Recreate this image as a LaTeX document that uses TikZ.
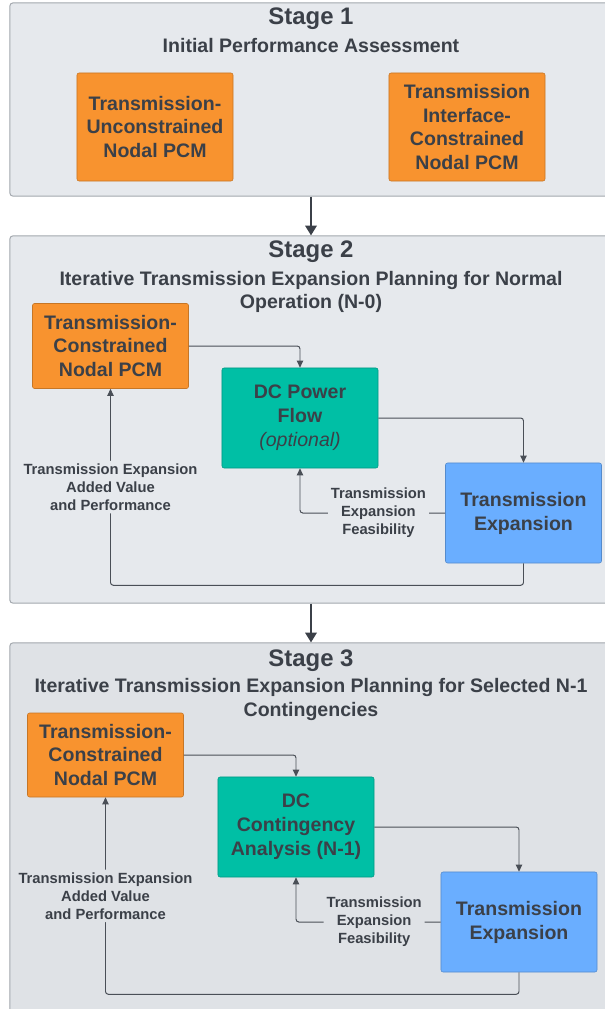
\documentclass[tikz,border=0pt]{standalone}
\usepackage{fontspec}
\setmainfont{Liberation Sans}
\usetikzlibrary{arrows.meta,positioning}
%colours
\definecolor{inkgray}{HTML}{3B4048}
\definecolor{linegray}{HTML}{4A4F57}
\definecolor{stagebg}{HTML}{E6E9ED}
\definecolor{stagebgdark}{HTML}{DFE2E6}
\definecolor{stageline}{HTML}{A3A8AE}
\definecolor{pcmorange}{HTML}{F8932F}
\definecolor{dcgreen}{HTML}{00BFA5}
\definecolor{expblue}{HTML}{6AAEFF}
%styles
\tikzset{
	stagebox/.style={draw=stageline, line width=0.7pt, rounded corners=2pt, fill=#1},
	task/.style={draw=#1!80!black, line width=0.4pt, fill=#1, rounded corners=1.5pt, text=inkgray,
		font=\fontsize{13.9}{17}\selectfont\bfseries, align=center, inner sep=0pt, minimum width=3.9cm},
	flow/.style={draw=linegray, line width=0.7pt, rounded corners=2pt, -{Triangle[width=4.5pt,length=5pt]}},
	stagearrow/.style={draw=inkgray, line width=2pt, -{Triangle[width=8pt,length=7pt]}},
	flowlabel/.style={fill=#1, text=inkgray, font=\fontsize{10.5}{12.8}\selectfont\bfseries, align=center, inner sep=2pt},
	stagetitle/.style={text=inkgray, font=\fontsize{17}{20}\selectfont\bfseries},
	stagesub/.style={text=inkgray, font=\fontsize{13.9}{16.4}\selectfont\bfseries, align=center},
}
\begin{document}
\begin{tikzpicture}[x=0.025cm, y=-0.025cm]
	%frame
	\fill[white] (0,0) rectangle (605,1009);
	\useasboundingbox (0,0) rectangle (605,1009);
	\clip (0,0) rectangle (605,1009);
	%Stage 1
	\node[stagebox=stagebg, minimum width=15.05cm, minimum height=4.825cm] (s1) at (311,99.5) {};
	\node[stagetitle] (title1) at (311,19) {Stage 1};
	\node[stagesub] (sub1) at (311,46) {Initial Performance Assessment};
	\node[task=pcmorange, minimum height=2.7cm] (ucpcm) at (155,127) {Transmission-\\Unconstrained\\Nodal PCM};
	\node[task=pcmorange, minimum height=2.7cm] (icpcm) at (467,127) {Transmission\\Interface-\\Constrained\\Nodal PCM};
	%Stage 2
	\node[stagebox=stagebg, minimum width=15.05cm, minimum height=9.175cm] (s2) at (311,419.5) {};
	\node[stagetitle] (title2) at (311,252) {Stage 2};
	\node[stagesub] (sub2) at (311,291.5) {Iterative Transmission Expansion Planning for Normal\\Operation (N-0)};
	\node[task=pcmorange, minimum height=2.125cm] (pcm2) at (110.5,346) {Transmission-\\Constrained\\Nodal PCM};
	\node[task=dcgreen, minimum height=2.5cm] (dc2) at (300,418) {DC Power\\Flow\\{\mdseries\itshape (optional)}};
	\node[task=expblue, minimum height=2.5cm] (exp2) at (523.5,513) {Transmission\\Expansion};
	\draw[flow] (pcm2.east) -| (dc2.north);
	\draw[flow] (dc2.east) -| (exp2.north);
	\draw[flow] (exp2.west) -| node[flowlabel=stagebg, pos=0.23] {Transmission\\Expansion\\Feasibility} (dc2.south);
	\draw[flow] (exp2.south) -- ++(0,22) -| node[flowlabel=stagebg, pos=0.75] {Transmission Expansion\\Added Value\\and Performance} (pcm2.south);
	%Stage 3
	\node[stagebox=stagebgdark, minimum width=15.05cm, minimum height=9.6cm] (s3) at (311,835) {};
	\node[stagetitle] (title3) at (311,661) {Stage 3};
	\node[stagesub] (sub3) at (311,699.5) {Iterative Transmission Expansion Planning for Selected N-1\\Contingencies};
	\node[task=pcmorange, minimum height=2.1cm] (pcm3) at (105.5,755) {Transmission-\\Constrained\\Nodal PCM};
	\node[task=dcgreen, minimum height=2.5cm] (dc3) at (296,827) {DC\\Contingency\\Analysis (N-1)};
	\node[task=expblue, minimum height=2.5cm] (exp3) at (519,922) {Transmission\\Expansion};
	\draw[flow] (pcm3.east) -| (dc3.north);
	\draw[flow] (dc3.east) -| (exp3.north);
	\draw[flow] (exp3.west) -| node[flowlabel=stagebgdark, pos=0.23] {Transmission\\Expansion\\Feasibility} (dc3.south);
	\draw[flow] (exp3.south) -- ++(0,22) -| node[flowlabel=stagebgdark, pos=0.75] {Transmission Expansion\\Added Value\\and Performance} (pcm3.south);
	%Stages
	\draw[stagearrow] (s1.south) -- (s2.north);
	\draw[stagearrow] (s2.south) -- (s3.north);
\end{tikzpicture}
\end{document}
